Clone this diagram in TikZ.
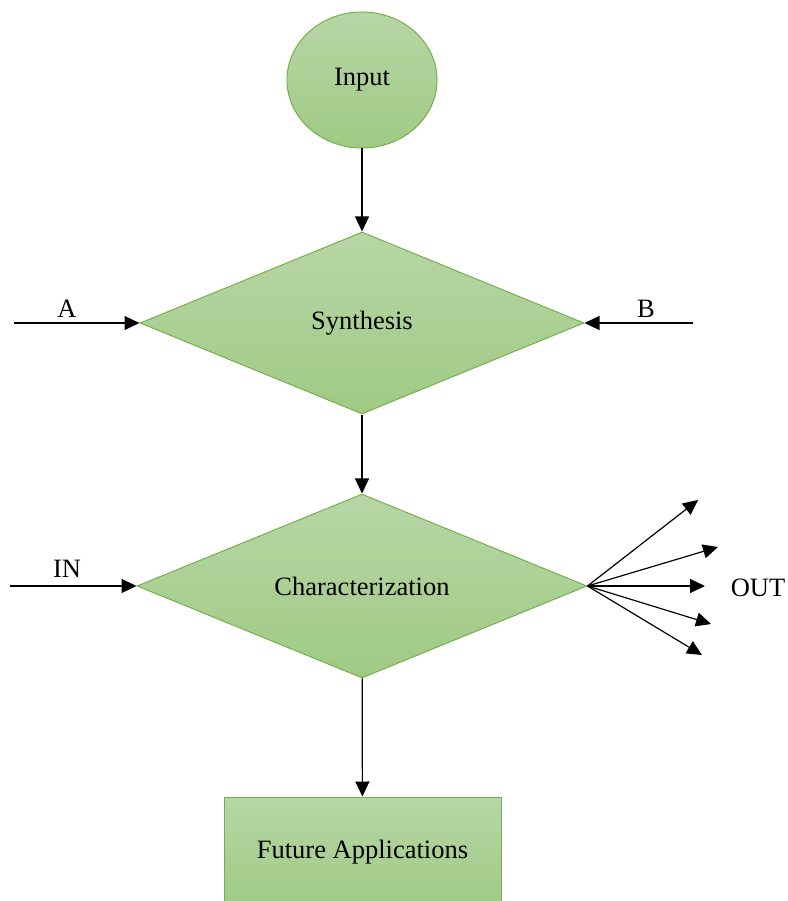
\documentclass[tikz,border=0pt]{standalone}
\usepackage{fontspec}
\setmainfont{Liberation Serif}
\usepackage{tikz}
\usetikzlibrary{arrows.meta, shapes.geometric}
\definecolor{boxTop}{RGB}{183, 214, 166}
\definecolor{boxBot}{RGB}{160, 202, 133}
\definecolor{boxLine}{RGB}{118, 176, 76}

\begin{document}
\begin{tikzpicture}[
  x=1pt, y=-1pt,
  txt/.style={font=\fontsize{26.5}{30}\selectfont, inner sep=0pt},
  green/.style={txt, draw=boxLine, line width=1pt, top color=boxTop, bottom color=boxBot},
  decision/.style={green, diamond, aspect=2.45},
  link/.style={-{Triangle[length=15pt, width=14pt]}, line width=1.2pt, black}
]
  \useasboundingbox (0, 0) rectangle (787, 901);
  % Main chain
  \node[green, ellipse, minimum width=150pt, minimum height=136pt] (input) at (362, 80) {Input};
  \node[decision, minimum width=444pt, minimum height=182pt] (synth) at (362, 323) {Synthesis};
  \node[decision, minimum width=450pt, minimum height=184pt] (charac) at (362, 586) {Characterization};
  \node[green, rectangle, minimum width=277pt, minimum height=110pt] (apps) at (362.5, 852) {Future Applications};
  \draw[link] (input) -- (synth);
  \draw[link] (synth) -- (charac);
  \draw[link] (charac) -- (apps);
  % Side inputs
  \coordinate (aStart) at (14, 323);
  \coordinate (bStart) at (693, 323);
  \coordinate (inStart) at (10, 586);
  \draw[link] (aStart) -- (synth.west);
  \draw[link] (bStart) -- (synth.east);
  \draw[link] (inStart) -- (charac.west);
  \node[txt] (labA) at (67, 309) {A};
  \node[txt] (labB) at (646, 309) {B};
  \node[txt] (labIn) at (67, 569) {IN};
  % Outputs
  \foreach \px/\py [count=\i] in {698/500, 718/547, 705/586, 711/624, 702/655} {
    \coordinate (out\i) at (\px, \py);
    \draw[link] (charac.east) -- (out\i);
  }
  \node[txt] (labOut) at (758, 588) {OUT};
\end{tikzpicture}
\end{document}
